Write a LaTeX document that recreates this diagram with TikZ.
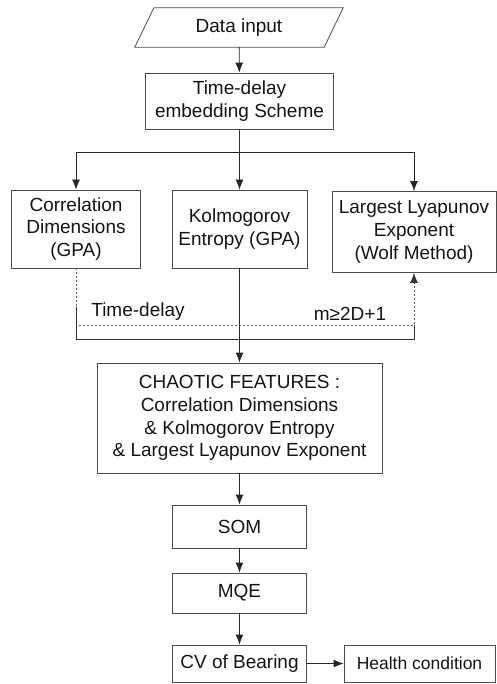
\documentclass[tikz,border=0pt]{standalone}
\usepackage{fontspec}
\setmainfont{Liberation Sans}
\usetikzlibrary{arrows.meta}

\begin{document}
\begin{tikzpicture}[x=1pt,y=-1pt,
        txt/.style={font=\fontsize{19}{22.7}\selectfont, text=black!92, align=center, inner sep=0pt},
        box/.style={txt, draw=black!70, line width=0.8pt, rectangle},
        frame/.style={draw=black!70, line width=0.8pt},
        arr/.style={-{Latex[length=10pt,width=8pt]}, line width=0.8pt, draw=black!85},
        link/.style={line width=0.8pt, draw=black!80},
        dots/.style={dash pattern=on 2pt off 2pt, line width=0.8pt, draw=black!65}]
        \useasboundingbox (0,0) rectangle (496,684);

        % Coordinates
        \coordinate (split) at (239.5,152);

        % Nodes
        \node[txt, minimum width=189pt, minimum height=39pt] (input) at (239,27.5) {Data input};
        \node[box, minimum width=188pt, minimum height=56pt] (embed) at (239.5,101) {Time-delay\\embedding Scheme};
        \node[box, minimum width=129pt, minimum height=78pt] (corr) at (76,229) {Correlation\\Dimensions\\(GPA)};
        \node[box, minimum width=135pt, minimum height=78pt] (kolm) at (239.5,229) {Kolmogorov\\Entropy (GPA)};
        \node[box, minimum width=164pt, minimum height=81pt] (lyap) at (414,232) {Largest Lyapunov\\Exponent\\(Wolf Method)};
        \node[box, minimum width=285pt, minimum height=110pt] (chaos) at (239.5,418) {CHAOTIC FEATURES :\\Correlation Dimensions\\\& Kolmogorov Entropy\\\& Largest Lyapunov Exponent};
        \node[box, minimum width=134pt, minimum height=43pt] (som) at (239.5,526.5) {SOM};
        \node[box, minimum width=134pt, minimum height=40pt] (mqe) at (239.5,593) {MQE};
        \node[box, minimum width=134pt, minimum height=37pt] (cv) at (239.5,663.5) {CV of Bearing};
        \node[box, minimum width=151pt, minimum height=37pt, font=\fontsize{17.5}{21}\selectfont] (health) at (419.5,663.5) {Health condition};
        \node[txt] (delay) at (138,312) {Time-delay};
        \node[txt] (embdim) at (350,314) {m≥2D+1};

        % Drawing
        \draw[frame] ([xshift=-9.5pt]input.south west) -- ([xshift=9.5pt]input.north west)
            -- ([xshift=9.5pt]input.north east) -- ([xshift=-9.5pt]input.south east) -- cycle;
        \draw[arr] (input) -- (embed);
        \draw[link] (embed) -- (split);
        \draw[arr] (split) -| (corr);
        \draw[arr] (split) -- (kolm);
        \draw[arr] (split) -| (lyap);
        \draw[dots] (corr.south) -- (corr.south |- 0,325) -| (lyap.south |- 0,283);
        \draw[arr, dots, draw=black!80] (lyap.south |- 0,283) -- (lyap.south);
        \draw[link] (corr.south |- 0,307) -- (corr.south |- 0,339) -| (lyap.south |- 0,325);
        \draw[arr] (kolm) -- (chaos);
        \draw[arr] (chaos) -- (som);
        \draw[arr] (som) -- (mqe);
        \draw[arr] (mqe) -- (cv);
        \draw[arr] (cv) -- (health);
\end{tikzpicture}
\end{document}
